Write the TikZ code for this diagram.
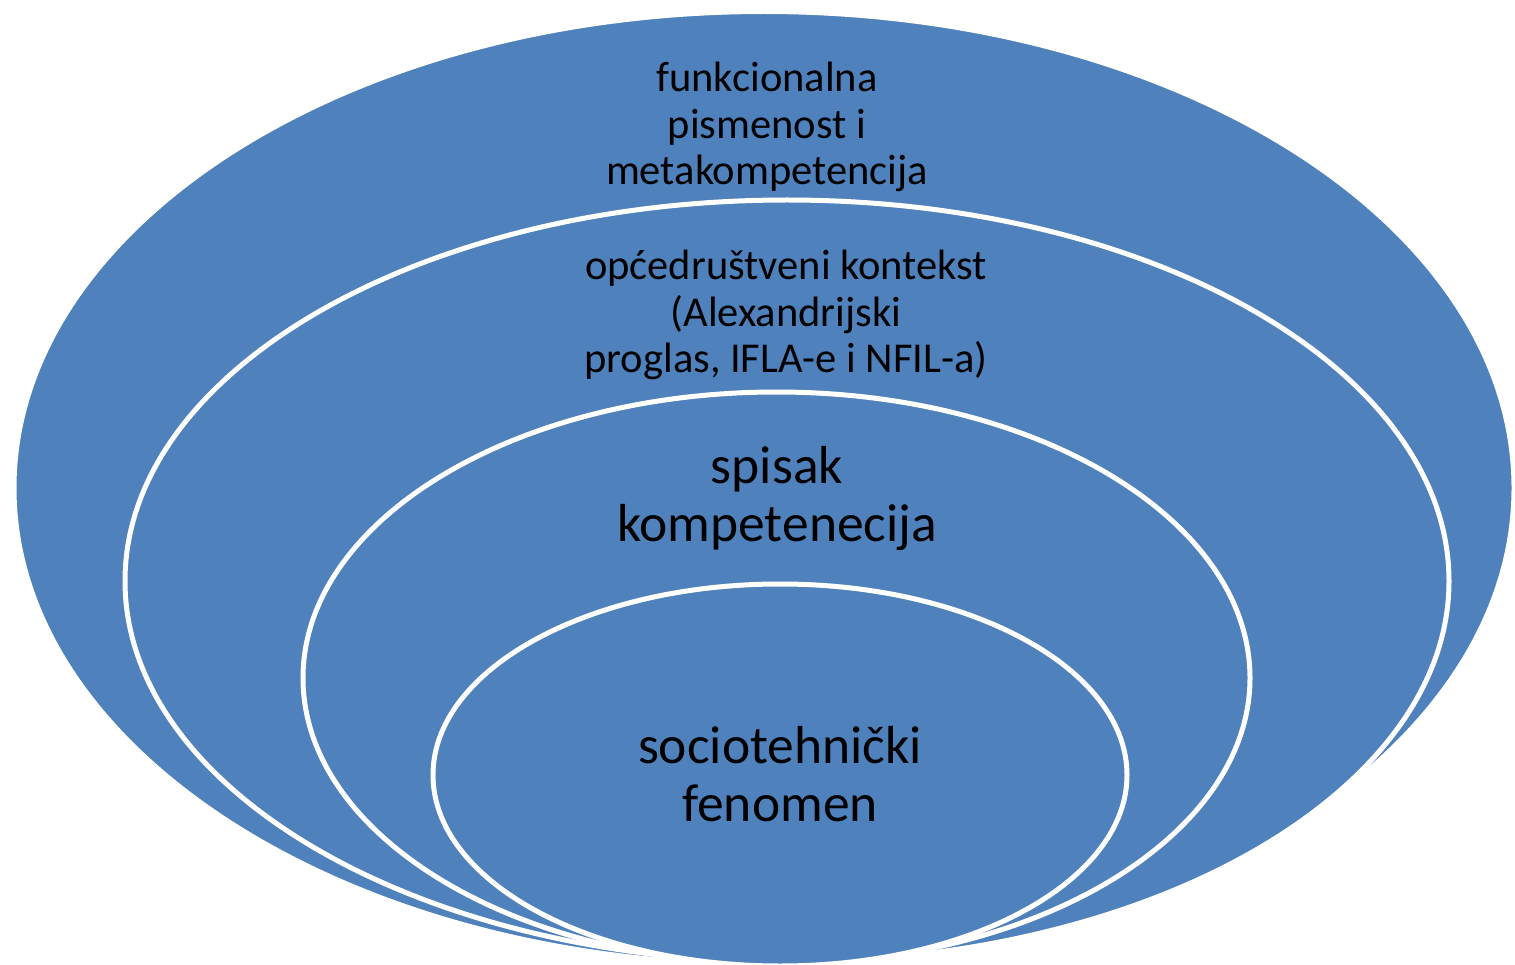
\documentclass[tikz,border=0pt]{standalone}
\usepackage{fontspec}
\setmainfont{Carlito}
\usetikzlibrary{shapes.geometric}
\definecolor{ringblue}{HTML}{4F81BD}
\tikzset{
  ring/.style={ellipse, fill=ringblue, draw=white, line width=5pt, inner sep=0pt},
  smalltxt/.style={align=center, text=black, font=\fontsize{42.5}{46.5}\selectfont},
  bigtxt/.style={align=center, text=black, font=\fontsize{53.5}{58}\selectfont}
}
\begin{document}
\begin{tikzpicture}[x=1pt,y=-1pt]
\useasboundingbox (0,0) rectangle (1515,965);
\clip (0,0) rectangle (1515,965);
\node[ring, minimum width=1500pt, minimum height=953pt] (r1) at (764,488) {};
\node[ring, minimum width=1324pt, minimum height=762pt] (r2) at (787,581) {};
\node[ring, minimum width=947pt, minimum height=572pt] (r3) at (776.5,678) {};
\node[ring, minimum width=694pt, minimum height=382pt] (r4) at (780,775) {};
\node[smalltxt] (t1) at (767,127) {funkcionalna\\pismenost i\\metakompetencija};
\node[smalltxt] (t2) at (786,315) {općedruštveni kontekst\\(Alexandrijski\\proglas, IFLA-e i NFIL-a)};
\node[bigtxt] (t3) at (777,499) {spisak\\kompetenecija};
\node[bigtxt] (t4) at (780,774) {sociotehnički\\fenomen};
\end{tikzpicture}
\end{document}
